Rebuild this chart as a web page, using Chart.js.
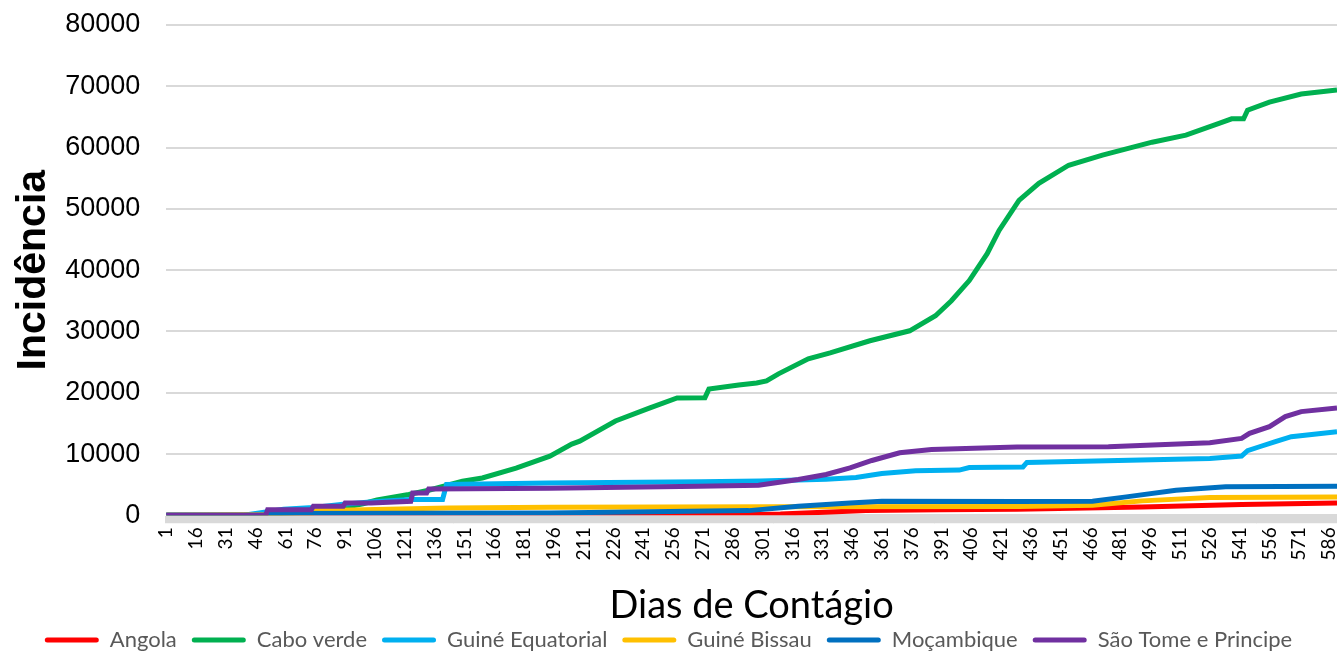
<!DOCTYPE html>
<html>
<head>
<meta charset="utf-8">
<script src="https://cdn.jsdelivr.net/npm/chart.js@4.4.1/dist/chart.umd.min.js"></script>
<style>
  body { margin: 0; background: #fff; }
  #wrap { width: 1337px; height: 653px; position: relative; }
</style>
</head>
<body>
<div id="wrap"><canvas id="lineChart"></canvas></div>
<script>
//  Dias de contágio (categorias 1..590)
var totalDias = 590;
var dias = [];
for (var d = 1; d <= totalDias; d++) dias.push(d);

//  Valores: [dia, casos acumulados]
var angola = [[1,0],[200,50],[300,150],[310,200],[353,800],[390,930],[429,1000],[492,1370],
    [542,1750],[590,2030]];
var caboVerde = [[1,0],[40,0],[50,150],[76,600],[91,1300],[100,1900],[107,2500],[123,3400],[133,4100],
    [150,5560],[160,6100],[177,7690],[194,9650],[205,11620],[209,12100],[227,15400],[244,17500],
    [258,19150],[272,19200],[274,20600],[289,21280],[298,21600],[303,21930],[309,23080],[324,25530],
    [335,26500],[355,28480],[375,30110],[388,32570],[396,35020],[405,38300],[414,42700],[420,46480],
    [430,51390],[440,54170],[455,57120],[472,58760],[497,60880],[514,62030],[531,64000],[537,64700],
    [543,64700],[545,66100],[556,67430],[572,68740],[590,69400]];
var guineEquatorial = [[1,0],[40,0],[52,600],[60,1000],[75,1300],[90,1800],[105,2200],[124,2570],
    [140,2600],[142,5020],[193,5290],[270,5500],[300,5610],[333,5890],[348,6160],[361,6820],
    [378,7270],[400,7380],[405,7800],[432,7900],[434,8630],[526,9280],[542,9670],[545,10540],
    [551,11190],[559,12010],[567,12830],[590,13650]];
var guineBissau = [[1,0],[74,150],[76,770],[143,1200],[194,1310],[306,1400],[430,1450],[467,1650],
    [492,2360],[526,2900],[590,3010]];
var mocambique = [[1,0],[50,0],[53,300],[194,380],[294,770],[319,1470],[345,2020],[361,2290],
    [430,2250],[467,2300],[484,3010],[509,4100],[534,4650],[590,4760]];
var saoTome = [[1,0],[51,0],[52,930],[74,930],[75,1470],[90,1470],[91,2020],[104,2020],[124,2290],
    [125,3650],[132,3650],[133,4300],[194,4400],[269,4750],[299,4910],[319,5840],[333,6660],
    [345,7750],[356,8950],[370,10200],[386,10750],[429,11130],[475,11190],[526,11850],[542,12550],
    [546,13370],[556,14470],[564,16100],[572,16920],[590,17500]];

var nomes = ["Angola", "Cabo verde", "Guiné Equatorial", "Guiné Bissau", "Moçambique", "São Tome e Principe"];
var series = [angola, caboVerde, guineEquatorial, guineBissau, mocambique, saoTome];
var cores = ["#ff0000", "#00b050", "#00b0f0", "#ffc000", "#0070c0", "#7030a0"];

var yTicks = [0, 10000, 20000, 30000, 40000, 50000, 60000, 70000, 80000];

function toPoints(s) {
    return s.map(function(p) { return {x: p[0], y: p[1]}; });
}

var datasets = series.map(function(s, i) {
    return {
        label: nomes[i],
        data: toPoints(s),
        borderColor: cores[i],
        backgroundColor: cores[i],
        borderWidth: 5,
        pointRadius: 0,
        tension: 0,
        fill: false,
        // Excel draws later series on top
        order: series.length - i
    };
});

new Chart(document.getElementById("lineChart"), {
    type: 'line',
    data: { labels: dias, datasets: datasets },
    options: {
        responsive: true,
        maintainAspectRatio: false,
        animation: false,
        layout: { padding: { top: 0, left: 0, right: 0, bottom: -8 } },
        plugins: {
            tooltip: { enabled: false },
            legend: {
                display: true,
                position: 'bottom',
                labels: {
                    boxWidth: 54,
                    boxHeight: 5,
                    padding: 15,
                    useBorderRadius: true,
                    borderRadius: 2.5,
                    color: '#595959',
                    font: { family: 'Lato', size: 22 },
                    generateLabels: function(chart) {
                        var items = Chart.defaults.plugins.legend.labels.generateLabels(chart);
                        items.forEach(function(it) { it.lineWidth = 0; });
                        items.sort(function(a, b) { return a.datasetIndex - b.datasetIndex; });
                        return items;
                    }
                }
            }
        },
        scales: {
            x: {
                type: 'category',
                offset: false,
                afterFit: function(axis) {
                    // no extra side padding: line runs to the edge like the original
                    axis.paddingLeft = 0;
                    axis.paddingRight = 0;
                },
                grid: { drawOnChartArea: false, drawTicks: true, tickLength: 8, color: '#d9d9d9', lineWidth: 2 },
                border: { display: true, color: '#d9d9d9', width: 1 },
                ticks: {
                    autoSkip: false,
                    minRotation: 90,
                    maxRotation: 90,
                    padding: 4,
                    color: '#000',
                    font: { family: 'Lato', size: 19 },
                    callback: function(val, i) { return (i % 15 === 0) ? String(dias[i]) : ''; }
                },
                title: {
                    display: true,
                    text: 'Dias de Contágio',
                    color: '#000',
                    font: { family: 'Lato', size: 38 },
                    padding: { top: 19, bottom: -15 }
                }
            },
            y: {
                min: 0,
                max: 80000,
                afterBuildTicks: function(axis) {
                    axis.ticks = yTicks.map(function(v) { return {value: v}; });
                },
                afterFit: function(axis) {
                    axis.paddingTop = 25;
                    axis.paddingBottom = 0;
                },
                grid: { color: '#d9d9d9', lineWidth: 2, drawTicks: false },
                border: { display: false },
                ticks: {
                    padding: 26,
                    color: '#000',
                    font: { family: 'Liberation Sans', size: 27 },
                    callback: function(v) { return String(v); }
                },
                title: {
                    display: true,
                    text: 'Incidência',
                    color: '#000',
                    font: { family: 'Liberation Sans', size: 41, weight: 'bold' },
                    padding: { top: 9, bottom: -19 }
                }
            }
        }
    }
});
</script>
</body>
</html>
